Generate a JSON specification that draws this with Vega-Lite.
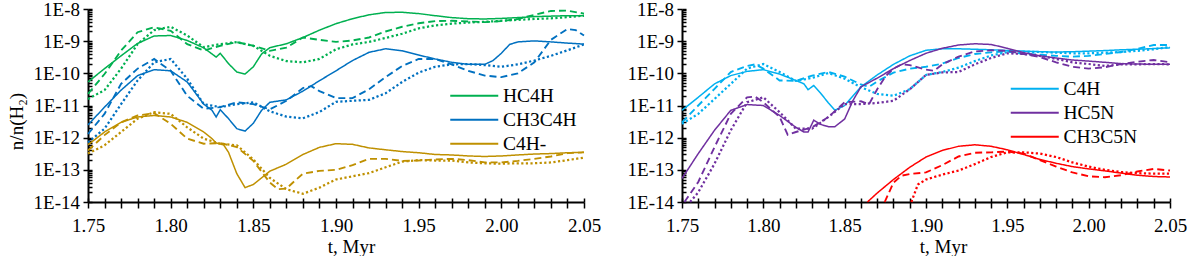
{
"$schema":"https://vega.github.io/schema/vega-lite/v6.json",
"background":"white",
"padding":{"left":7,"top":0,"right":1,"bottom":0},
"spacing":26,
"data":{"values":[
{"t":1.75,"a":5.4e-11,"b":2.3e-11,"c":1.6e-11,"d":2.5e-12,"e":1.3e-12,"f":7.1e-13,"g":6.0e-13,"h":4.0e-13,"i":3.2e-13},
{"t":1.76,"a":1.4e-10,"b":9.5e-11,"c":3.0e-11,"d":8.9e-12,"e":5.5e-12,"f":1.9e-12,"g":1.5e-12,"h":1.2e-12,"i":5.8e-13},
{"t":1.77,"a":3.5e-10,"b":5.1e-10,"c":1.4e-10,"d":3.0e-11,"e":4.7e-11,"f":1.1e-11,"g":3.0e-12,"h":3.0e-12,"i":1.5e-12},
{"t":1.78,"a":8.5e-10,"b":1.9e-9,"c":8.1e-10,"d":8.5e-11,"e":1.4e-10,"f":6.0e-11,"g":4.4e-12,"h":4.9e-12,"i":3.9e-12},
{"t":1.79,"a":1.45e-9,"b":2.7e-9,"c":2.2e-9,"d":1.3e-10,"e":2.8e-10,"f":2.2e-10,"g":4.9e-12,"h":5.8e-12,"i":6.2e-12},
{"t":1.8,"a":1.5e-9,"b":2.1e-9,"c":2.8e-9,"d":1.2e-10,"e":1.2e-10,"f":2.8e-10,"g":4.4e-12,"h":2.7e-12,"i":5.5e-12},
{"t":1.81,"a":1.05e-9,"b":8.1e-10,"c":1.5e-9,"d":5.4e-11,"e":2.0e-11,"f":6.8e-11,"g":3.0e-12,"h":9.3e-13,"i":2.1e-12},
{"t":1.82,"a":6.2e-10,"b":5.1e-10,"c":6.5e-10,"d":1.1e-11,"e":7.9e-12,"f":1.1e-11,"g":1.5e-12,"h":6.5e-13,"i":9.3e-13},
{"t":1.825,"a":4.0e-10,"d":7.1e-12,"g":9.3e-13},
{"t":1.8275,"a":3.2e-10,"d":4.4e-12,"g":6.8e-13},
{"t":1.83,"a":4.2e-10,"b":7.2e-10,"c":8.1e-10,"d":7.4e-12,"e":8.9e-12,"f":8.9e-12,"g":6.3e-13,"h":6.8e-13,"i":6.5e-13},
{"t":1.832,"g":6.0e-13},
{"t":1.835,"a":2.0e-10,"d":3.9e-12,"g":3.5e-13},
{"t":1.84,"a":1.1e-10,"b":9.3e-10,"c":9.3e-10,"d":1.9e-12,"e":1.26e-11,"f":1.1e-11,"g":7.6e-14,"h":5.1e-13,"i":5.8e-13},
{"t":1.845,"a":9.5e-11,"d":1.6e-12,"g":2.8e-14},
{"t":1.85,"a":1.6e-10,"b":7.2e-10,"c":7.2e-10,"d":2.8e-12,"e":1.1e-11,"f":1.26e-11,"g":3.5e-14,"h":1.9e-13,"i":2.1e-13},
{"t":1.855,"a":4.0e-10,"d":7.1e-12},
{"t":1.86,"a":6.3e-10,"b":5.0e-10,"c":3.5e-10,"d":1.26e-11,"e":7.6e-12,"f":6.6e-12,"g":9.1e-14,"h":4.0e-14,"i":5.6e-14},
{"t":1.865,"h":2.5e-14},
{"t":1.87,"a":8.3e-10,"b":6.3e-10,"c":2.4e-10,"d":1.5e-11,"e":1.4e-11,"f":4.5e-12,"g":1.5e-13,"h":2.6e-14,"i":2.5e-14},
{"t":1.875,"h":4.5e-14},
{"t":1.88,"a":1.3e-9,"b":1.3e-9,"c":2.2e-10,"d":2.8e-11,"e":3.5e-11,"f":4.0e-12,"g":3.0e-13,"h":7.6e-14,"i":1.8e-14},
{"t":1.885,"e":4.0e-11},
{"t":1.89,"a":2.2e-9,"b":1.1e-9,"c":2.8e-10,"d":5.9e-11,"e":2.8e-11,"f":6.3e-12,"g":5.0e-13,"h":9.3e-14,"i":2.8e-14},
{"t":1.9,"a":3.5e-9,"b":9.5e-10,"c":5.6e-10,"d":1.2e-10,"e":1.7e-11,"f":1.3e-11,"g":6.5e-13,"h":1.0e-13,"i":5.0e-14},
{"t":1.91,"a":5.0e-9,"b":1.05e-9,"c":7.9e-10,"d":2.5e-10,"e":1.7e-11,"f":1.4e-11,"g":6.2e-13,"h":1.4e-13,"i":6.3e-14},
{"t":1.92,"a":6.6e-9,"b":1.3e-9,"c":9.5e-10,"d":4.5e-10,"e":3.2e-11,"f":1.5e-11,"g":4.8e-13,"h":2.2e-13,"i":7.9e-14},
{"t":1.93,"a":7.8e-9,"b":2.0e-9,"c":1.26e-9,"d":5.8e-10,"e":7.6e-11,"f":2.4e-11,"g":4.2e-13,"h":2.2e-13,"i":1.2e-13},
{"t":1.94,"a":7.9e-9,"b":2.8e-9,"c":1.7e-9,"d":5.0e-10,"e":1.7e-10,"f":5.4e-11,"g":3.7e-13,"h":1.9e-13,"i":1.8e-13},
{"t":1.95,"a":7.2e-9,"b":3.6e-9,"c":2.5e-9,"d":3.7e-10,"e":2.8e-10,"f":1.05e-10,"g":3.4e-13,"h":1.95e-13,"i":2.0e-13},
{"t":1.96,"a":6.2e-9,"b":4.2e-9,"c":3.1e-9,"d":2.8e-10,"e":2.8e-10,"f":1.6e-10,"g":3.0e-13,"h":2.1e-13,"i":1.95e-13},
{"t":1.97,"a":5.4e-9,"b":4.3e-9,"c":3.5e-9,"d":2.2e-10,"e":1.9e-10,"f":1.9e-10,"g":2.9e-13,"h":2.2e-13,"i":1.95e-13},
{"t":1.98,"a":5.0e-9,"b":4.1e-9,"c":3.8e-9,"d":1.9e-10,"e":1.2e-10,"f":1.95e-10,"g":2.7e-13,"h":2.0e-13,"i":1.7e-13},
{"t":1.99,"a":4.9e-9,"b":3.9e-9,"c":4.0e-9,"d":1.9e-10,"e":8.5e-11,"f":1.8e-10,"g":2.6e-13,"h":1.7e-13,"i":1.6e-13},
{"t":1.995,"d":2.5e-10},
{"t":2.0,"a":5.1e-9,"b":4.2e-9,"c":4.3e-9,"d":4.2e-10,"e":7.6e-11,"f":1.6e-10,"g":2.7e-13,"h":1.7e-13,"i":1.55e-13},
{"t":2.005,"d":7.9e-10},
{"t":2.01,"a":5.4e-9,"b":4.9e-9,"c":4.6e-9,"d":9.5e-10,"e":1.0e-10,"f":1.9e-10,"g":2.9e-13,"h":1.9e-13,"i":1.6e-13},
{"t":2.02,"a":5.8e-9,"b":6.6e-9,"c":4.9e-9,"d":1.02e-9,"e":2.2e-10,"f":2.5e-10,"g":3.1e-13,"h":2.2e-13,"i":1.6e-13},
{"t":2.03,"a":6.0e-9,"b":8.7e-9,"c":5.1e-9,"d":9.5e-10,"e":1.1e-9,"f":3.5e-10,"g":3.2e-13,"h":2.6e-13,"i":1.7e-13},
{"t":2.04,"a":6.2e-9,"b":8.9e-9,"c":5.6e-9,"d":8.7e-10,"e":2.4e-9,"f":5.2e-10,"g":3.4e-13,"h":3.3e-13,"i":2.0e-13},
{"t":2.045,"e":2.2e-9},
{"t":2.05,"a":6.2e-9,"b":7.2e-9,"c":6.2e-9,"d":8.1e-10,"e":1.5e-9,"f":7.9e-10,"g":3.5e-13,"h":3.5e-13,"i":2.4e-13},
{"t":1.75,"j":7.1e-12,"k":3.0e-12,"l":2.7e-12,"m":5.4e-14},
{"t":1.7515,"n":1.0e-14},
{"t":1.755,"o":1.0e-14},
{"t":1.76,"j":1.8e-11,"k":1.0e-11,"l":5.5e-12,"m":3.2e-13,"n":4.2e-14,"o":2.0e-14},
{"t":1.77,"j":4.7e-11,"k":3.3e-11,"l":1.6e-11,"m":1.7e-12,"n":5.1e-13,"o":1.55e-13},
{"t":1.78,"j":8.5e-11,"k":1.1e-10,"l":4.7e-11,"m":7.1e-12,"n":5.5e-12,"o":1.7e-12},
{"t":1.79,"j":1.15e-10,"k":1.7e-10,"l":1.4e-10,"m":1.07e-11,"n":1.8e-11,"o":1.26e-11},
{"t":1.795,"k":1.9e-10,"n":1.9e-11},
{"t":1.8,"j":1.3e-10,"k":1.4e-10,"l":1.95e-10,"m":1.0e-11,"n":1.26e-11,"o":1.8e-11},
{"t":1.81,"j":9.5e-11,"k":6.0e-11,"l":1.1e-10,"m":4.9e-12,"n":4.4e-12,"o":6.2e-12},
{"t":1.815,"n":1.23e-12},
{"t":1.82,"j":6.0e-11,"k":5.8e-11,"l":5.8e-11,"m":2.1e-12,"n":1.5e-12,"o":1.9e-12},
{"t":1.825,"j":4.7e-11,"m":1.5e-12},
{"t":1.8275,"j":3.1e-11,"m":1.5e-12},
{"t":1.83,"k":8.5e-11,"l":7.2e-11,"n":2.1e-12,"o":1.9e-12},
{"t":1.831,"j":4.2e-11,"m":3.5e-12},
{"t":1.835,"j":2.5e-11,"m":2.6e-12},
{"t":1.84,"j":1.2e-11,"k":1.1e-10,"l":1.02e-10,"m":2.2e-12,"n":4.4e-12,"o":4.4e-12},
{"t":1.844,"j":7.1e-12,"m":2.2e-12},
{"t":1.85,"j":1.0e-11,"k":7.9e-11,"l":6.8e-11,"m":3.8e-12,"n":1.26e-11,"o":1.1e-11},
{"t":1.855,"m":1.4e-11},
{"t":1.86,"j":3.8e-11,"k":4.5e-11,"l":3.7e-11,"m":3.8e-11,"n":1.35e-11,"o":1.1e-11},
{"t":1.864,"p":1.0e-14},
{"t":1.865,"k":3.8e-11,"n":1.1e-11},
{"t":1.87,"j":8.9e-11,"k":5.6e-11,"l":2.3e-11,"m":7.1e-11,"n":3.2e-11,"o":1.2e-11,"p":1.9e-14},
{"t":1.8745,"q":1.0e-14},
{"t":1.875,"n":7.9e-11,"q":1.1e-14},
{"t":1.88,"j":1.9e-10,"k":1.05e-10,"l":2.0e-11,"m":1.4e-10,"n":1.4e-10,"o":1.4e-11,"p":5.0e-14,"q":4.0e-14},
{"t":1.885,"n":1.9e-10,"q":6.6e-14},
{"t":1.89,"j":3.5e-10,"k":1.4e-10,"l":3.2e-11,"m":2.5e-10,"n":1.8e-10,"o":3.2e-11,"p":1.2e-13,"q":7.4e-14},
{"t":1.891,"r":1.0e-14},
{"t":1.895,"r":3.5e-14},
{"t":1.9,"j":5.2e-10,"k":1.6e-10,"l":8.9e-11,"m":4.2e-10,"n":1.3e-10,"o":8.9e-11,"p":2.5e-13,"q":8.3e-14,"r":5.0e-14},
{"t":1.905,"n":1.2e-10},
{"t":1.91,"j":5.8e-10,"k":2.0e-10,"l":1.1e-10,"m":6.0e-10,"n":1.9e-10,"o":1.07e-10,"p":4.0e-13,"q":1.4e-13,"r":7.1e-14},
{"t":1.92,"j":5.8e-10,"k":3.0e-10,"l":1.5e-10,"m":7.6e-10,"n":3.3e-10,"o":1.1e-10,"p":5.4e-13,"q":2.6e-13,"r":9.5e-14},
{"t":1.93,"j":5.6e-10,"k":4.0e-10,"l":2.4e-10,"m":8.3e-10,"n":4.8e-10,"o":1.9e-10,"p":6.0e-13,"q":3.4e-13,"r":1.5e-13},
{"t":1.94,"j":5.4e-10,"k":4.5e-10,"l":3.6e-10,"m":7.9e-10,"n":5.2e-10,"o":3.0e-10,"p":5.4e-13,"q":3.5e-13,"r":2.5e-13},
{"t":1.95,"j":5.1e-10,"k":4.8e-10,"l":4.6e-10,"m":6.0e-10,"n":5.0e-10,"o":4.2e-10,"p":4.2e-13,"q":3.7e-13,"r":3.5e-13},
{"t":1.96,"j":4.9e-10,"k":4.0e-10,"l":4.7e-10,"m":4.4e-10,"n":4.0e-10,"o":4.0e-10,"p":3.0e-13,"q":3.2e-13,"r":3.5e-13},
{"t":1.97,"j":4.7e-10,"k":3.8e-10,"l":4.6e-10,"m":3.5e-10,"n":3.2e-10,"o":3.5e-10,"p":2.1e-13,"q":2.0e-13,"r":3.2e-13},
{"t":1.98,"j":4.6e-10,"k":3.5e-10,"l":4.4e-10,"m":3.0e-10,"n":2.2e-10,"o":2.8e-10,"p":1.6e-13,"q":1.26e-13,"r":2.5e-13},
{"t":1.99,"j":4.7e-10,"k":3.3e-10,"l":4.2e-10,"m":2.6e-10,"n":1.6e-10,"o":2.2e-10,"p":1.26e-13,"q":8.3e-14,"r":1.7e-13},
{"t":2.0,"j":4.9e-10,"k":3.5e-10,"l":4.2e-10,"m":2.4e-10,"n":1.4e-10,"o":1.95e-10,"p":1.07e-13,"q":6.3e-14,"r":1.26e-13},
{"t":2.01,"j":5.1e-10,"k":4.0e-10,"l":4.4e-10,"m":2.2e-10,"n":1.55e-10,"o":1.7e-10,"p":9.3e-14,"q":5.9e-14,"r":1.0e-13},
{"t":2.02,"j":5.4e-10,"k":4.6e-10,"l":4.6e-10,"m":2.0e-10,"n":1.95e-10,"o":1.9e-10,"p":7.9e-14,"q":6.8e-14,"r":8.5e-14},
{"t":2.03,"j":5.6e-10,"k":5.8e-10,"l":5.0e-10,"m":1.95e-10,"n":2.3e-10,"o":1.9e-10,"p":6.8e-14,"q":8.9e-14,"r":7.9e-14},
{"t":2.04,"j":5.9e-10,"k":7.6e-10,"l":5.6e-10,"m":1.9e-10,"n":2.6e-10,"o":1.95e-10,"p":6.2e-14,"q":1.07e-13,"r":7.6e-14},
{"t":2.05,"j":6.2e-10,"k":7.6e-10,"l":6.6e-10,"m":1.9e-10,"n":2.2e-10,"o":1.9e-10,"p":6.0e-14,"q":9.5e-14,"r":7.6e-14}
]},
"hconcat":[
{
"width":496,"height":193,
"transform":[
{"fold":["a","b","c","d","e","f","g","h","i"],"as":["key","v"]},
{"filter":"isValid(datum.v)"},
{"lookup":"key","from":{"data":{"values":[
{"key":"a","sp":"HC4H","var":"solid"},{"key":"b","sp":"HC4H","var":"dashed"},{"key":"c","sp":"HC4H","var":"dotted"},
{"key":"d","sp":"CH3C4H","var":"solid"},{"key":"e","sp":"CH3C4H","var":"dashed"},{"key":"f","sp":"CH3C4H","var":"dotted"},
{"key":"g","sp":"C4H-","var":"solid"},{"key":"h","sp":"C4H-","var":"dashed"},{"key":"i","sp":"C4H-","var":"dotted"}
]},"key":"key","fields":["sp","var"]}}
],
"layer":[
{"mark":{"type":"line"},
"encoding":{
"x":{"field":"t","type":"quantitative","scale":{"domain":[1.75,2.05],"nice":false,"zero":false},
"axis":{"values":[1.75,1.76,1.77,1.78,1.79,1.8,1.81,1.82,1.83,1.84,1.85,1.86,1.87,1.88,1.89,1.9,1.91,1.92,1.93,1.94,1.95,1.96,1.97,1.98,1.99,2,2.01,2.02,2.03,2.04,2.05],
"labelExpr":"abs(datum.value*20-round(datum.value*20))<0.001 ? format(datum.value,'.2f') : ''",
"title":"t, Myr","ticks":true,"tickSize":6,"labelPadding":8,"titlePadding":2,"titleX":263,"labelOverlap":false,"labelFlush":false}},
"y":{"field":"v","type":"quantitative","scale":{"type":"log","domain":[1e-14,1e-8],"nice":false},
"axis":{"values":[1e-14,1e-13,1e-12,1e-11,1e-10,1e-9,1e-8],"labelExpr":"'1E' + round(log(datum.value)/LN10)",
"title":"n/n(H₂)","ticks":true,"tickSize":5,"labelPadding":3.5,"titlePadding":7,"titleY":112,"labelOverlap":false,"labelFlush":false}},
"color":{"field":"sp","type":"nominal","scale":{"domain":["HC4H","CH3C4H","C4H-"],"range":["#00B050","#0070C0","#BF9000"]},
"legend":{"title":null,"orient":"none","legendX":376.5,"legendY":77}},
"strokeDash":{"field":"var","type":"nominal","scale":{"domain":["solid","dashed","dotted"],"range":[[1,0],[7,4],[2.2,2.4]]},"legend":null},
"strokeWidth":{"field":"var","type":"nominal","scale":{"domain":["solid","dashed","dotted"],"range":[1.5,2.25,2.6]},"legend":null}
}},
{"mark":{"type":"point","opacity":0},
"encoding":{
"x":{"field":"t","type":"quantitative","scale":{"domain":[1.75,2.05],"nice":false,"zero":false},
"axis":{"orient":"bottom","values":[1.75,1.76,1.77,1.78,1.79,1.8,1.81,1.82,1.83,1.84,1.85,1.86,1.87,1.88,1.89,1.9,1.91,1.92,1.93,1.94,1.95,1.96,1.97,1.98,1.99,2,2.01,2.02,2.03,2.04,2.05],"labels":false,"domain":false,"ticks":true,"tickSize":-4,"title":null}},
"y":{"field":"v","type":"quantitative","scale":{"type":"log","domain":[1e-14,1e-8],"nice":false},
"axis":{"orient":"left","values":[1e-14,2e-14,3e-14,4e-14,5e-14,6e-14,7e-14,8e-14,9e-14,1e-13,2e-13,3e-13,4e-13,5e-13,6e-13,7e-13,8e-13,9e-13,1e-12,2e-12,3e-12,4e-12,5e-12,6e-12,7e-12,8e-12,9e-12,1e-11,2e-11,3e-11,4e-11,5e-11,6e-11,7e-11,8e-11,9e-11,1e-10,2e-10,3e-10,4e-10,5e-10,6e-10,7e-10,8e-10,9e-10,1e-9,2e-9,3e-9,4e-9,5e-9,6e-9,7e-9,8e-9,9e-9,1e-8],"labels":false,"domain":false,"ticks":true,"tickSize":-4,"title":null}}
}}
],
"resolve":{"axis":{"x":"independent","y":"independent"}}
},
{
"width":488,"height":193,
"transform":[
{"fold":["j","k","l","m","n","o","p","q","r"],"as":["key","v"]},
{"filter":"isValid(datum.v)"},
{"lookup":"key","from":{"data":{"values":[
{"key":"j","sp":"C4H","var":"solid"},{"key":"k","sp":"C4H","var":"dashed"},{"key":"l","sp":"C4H","var":"dotted"},
{"key":"m","sp":"HC5N","var":"solid"},{"key":"n","sp":"HC5N","var":"dashed"},{"key":"o","sp":"HC5N","var":"dotted"},
{"key":"p","sp":"CH3C5N","var":"solid"},{"key":"q","sp":"CH3C5N","var":"dashed"},{"key":"r","sp":"CH3C5N","var":"dotted"}
]},"key":"key","fields":["sp","var"]}}
],
"layer":[
{"mark":{"type":"line"},
"encoding":{
"x":{"field":"t","type":"quantitative","scale":{"domain":[1.75,2.05],"nice":false,"zero":false},
"axis":{"values":[1.75,1.76,1.77,1.78,1.79,1.8,1.81,1.82,1.83,1.84,1.85,1.86,1.87,1.88,1.89,1.9,1.91,1.92,1.93,1.94,1.95,1.96,1.97,1.98,1.99,2,2.01,2.02,2.03,2.04,2.05],
"labelExpr":"abs(datum.value*20-round(datum.value*20))<0.001 ? format(datum.value,'.2f') : ''",
"title":"t, Myr","ticks":true,"tickSize":6,"labelPadding":8,"titlePadding":2,"titleX":261,"labelOverlap":false,"labelFlush":false}},
"y":{"field":"v","type":"quantitative","scale":{"type":"log","domain":[1e-14,1e-8],"nice":false},
"axis":{"values":[1e-14,1e-13,1e-12,1e-11,1e-10,1e-9,1e-8],"labelExpr":"'1E' + round(log(datum.value)/LN10)",
"title":null,"ticks":true,"tickSize":5,"labelPadding":3.5,"labelOverlap":false,"labelFlush":false}},
"color":{"field":"sp","type":"nominal","scale":{"domain":["C4H","HC5N","CH3C5N"],"range":["#00B0F0","#7030A0","#FF0000"]},
"legend":{"title":null,"orient":"none","legendX":343,"legendY":70}},
"strokeDash":{"field":"var","type":"nominal","scale":{"domain":["solid","dashed","dotted"],"range":[[1,0],[7,4],[2.2,2.4]]},"legend":null},
"strokeWidth":{"field":"var","type":"nominal","scale":{"domain":["solid","dashed","dotted"],"range":[1.5,2.25,2.6]},"legend":null}
}},
{"mark":{"type":"point","opacity":0},
"encoding":{
"x":{"field":"t","type":"quantitative","scale":{"domain":[1.75,2.05],"nice":false,"zero":false},
"axis":{"orient":"bottom","values":[1.75,1.76,1.77,1.78,1.79,1.8,1.81,1.82,1.83,1.84,1.85,1.86,1.87,1.88,1.89,1.9,1.91,1.92,1.93,1.94,1.95,1.96,1.97,1.98,1.99,2,2.01,2.02,2.03,2.04,2.05],"labels":false,"domain":false,"ticks":true,"tickSize":-4,"title":null}},
"y":{"field":"v","type":"quantitative","scale":{"type":"log","domain":[1e-14,1e-8],"nice":false},
"axis":{"orient":"left","values":[1e-14,2e-14,3e-14,4e-14,5e-14,6e-14,7e-14,8e-14,9e-14,1e-13,2e-13,3e-13,4e-13,5e-13,6e-13,7e-13,8e-13,9e-13,1e-12,2e-12,3e-12,4e-12,5e-12,6e-12,7e-12,8e-12,9e-12,1e-11,2e-11,3e-11,4e-11,5e-11,6e-11,7e-11,8e-11,9e-11,1e-10,2e-10,3e-10,4e-10,5e-10,6e-10,7e-10,8e-10,9e-10,1e-9,2e-9,3e-9,4e-9,5e-9,6e-9,7e-9,8e-9,9e-9,1e-8],"labels":false,"domain":false,"ticks":true,"tickSize":-4,"title":null}}
}}
],
"resolve":{"axis":{"x":"independent","y":"independent"}}
}
],
"resolve":{"scale":{"color":"independent"},"legend":{"color":"independent"}},
"config":{
"view":{"stroke":null},
"axis":{"grid":false,"ticks":true,"labelFont":"Liberation Serif","labelFontSize":19,"labelColor":"black","domainColor":"black","domainWidth":2,"tickColor":"black","tickWidth":1.5,"tickOpacity":1,"titleFont":"Liberation Serif","titleFontSize":19,"titleFontWeight":"normal","titleColor":"black"},
"legend":{"labelFont":"Liberation Serif","labelFontSize":19.5,"labelColor":"black","symbolType":"M-4,0H4","symbolSize":144,"symbolStrokeWidth":2,"rowPadding":3,"labelOffset":19,"padding":0}
}
}
